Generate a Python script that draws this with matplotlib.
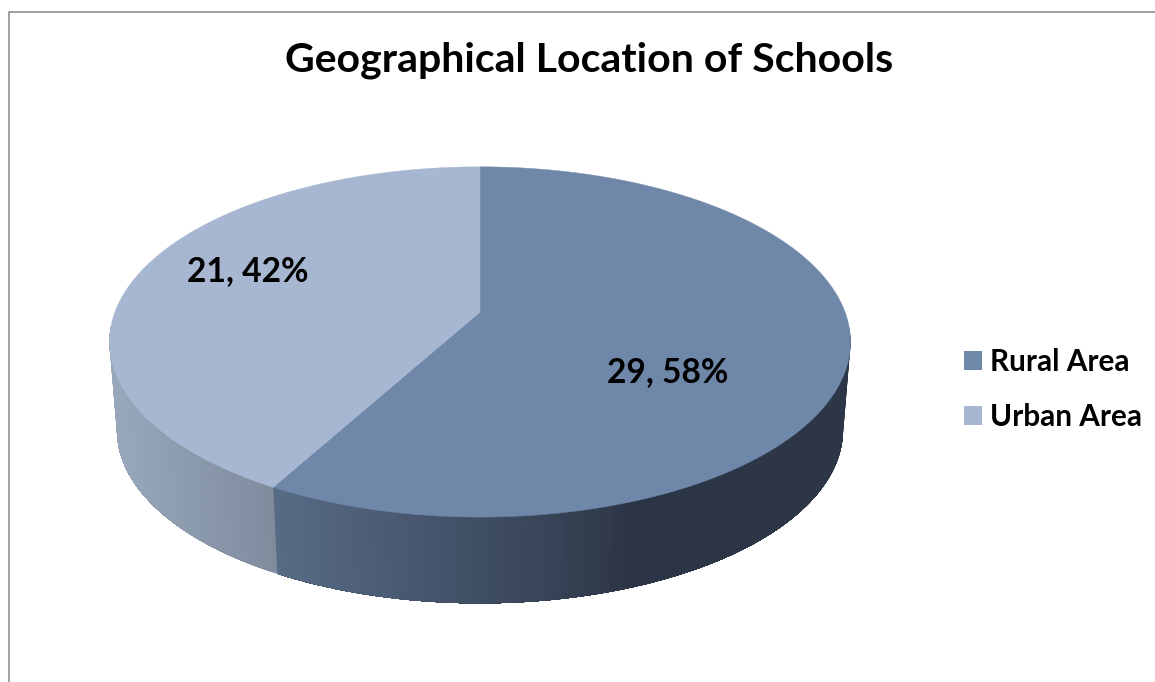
import numpy as np
import matplotlib
matplotlib.use("Agg")
import matplotlib.pyplot as plt
from matplotlib.colors import to_rgb
from matplotlib.patches import Polygon, Patch

title = "Geographical Location of Schools"
categories = ["Rural Area", "Urban Area"]
values = [29, 21]
colors = ["#6f88a9", "#a7b7d1"]

# layout in pixels
cx, vertex_y, ellipse_y = 480, 312, 342
persp = -0.171
rx, ry = 365, 170
wall_scale_x, wall_scale_y, wall_y = 0.98, 0.99, 430
label_pos = [(247.5, 271), (668, 372)][::-1]

# side wall shading, x pixel -> colour
rural_stops = [(272, "#586c86"), (400, "#4a5a73"), (520, "#3c495d"), (640, "#2c3546"), (850, "#2d3646")]
urban_stops = [(115, "#99a7bb"), (190, "#8c9aae"), (277, "#7f8b9d")]

plt.rcParams["font.family"] = ["Lato", "DejaVu Sans"]


def rim(theta):
    """Project an angle clockwise from 12 o'clock onto the tilted top face."""
    u, v = np.sin(theta), -np.cos(theta)
    d = 1 + persp * v
    return cx + rx * u / d, vertex_y + ry * v / d


def wall_rim(x, y):
    return cx + (x - cx) * wall_scale_x, wall_y + (y - ellipse_y) * wall_scale_y


def shade(x, stops):
    xs = [s[0] for s in stops]
    rgb = np.array([to_rgb(s[1]) for s in stops])
    return [np.interp(x, xs, rgb[:, i]) for i in range(3)]


fig = plt.figure(figsize=(11.55, 6.82), dpi=100)
ax = fig.add_axes([0, 0, 1, 1])
ax.set_xlim(0, 1155)
ax.set_ylim(682, 0)
ax.axis("off")

# chart frame
ax.plot([9, 9, 1155], [682, 12, 12], color="#868686", lw=1.1, solid_capstyle="butt")

fractions = np.array(values) / sum(values)
edges = np.concatenate([[0], np.cumsum(fractions)]) * 2 * np.pi

# walls, only the part facing the viewer
# each strip runs to the end of the wall and the next one paints over it, so no seams show
wall_stops = [rural_stops, urban_stops]
for i in range(len(values)):
    start = max(edges[i], np.radians(95))
    stop = min(edges[i + 1], np.radians(265))
    angles = np.linspace(start, stop, 121)
    for a0 in angles[:-1]:
        sweep = np.linspace(a0, stop, 60)
        x, y = rim(sweep)
        xb, yb = wall_rim(x, y)
        c = shade(x[0], wall_stops[i])
        pts = np.column_stack([np.r_[x, xb[::-1]], np.r_[y, yb[::-1]]])
        ax.add_patch(Polygon(pts, facecolor=c, edgecolor="none"))

# top face
for i, cat in enumerate(categories):
    angles = np.linspace(edges[i], edges[i + 1], 400)
    x, y = rim(angles)
    pts = np.column_stack([np.r_[cx, x], np.r_[vertex_y, y]])
    ax.add_patch(Polygon(pts, facecolor=colors[i], edgecolor=colors[i], lw=0.3))
    label = f"{values[i]}, {fractions[i] * 100:.0f}%"
    ax.text(label_pos[i][0], label_pos[i][1], label, ha="center", va="center",
            fontsize=24.2, fontweight="bold", color="black")

ax.text(589, 60, title, ha="center", va="center", fontsize=29.5, fontweight="bold", color="black")

handles = [Patch(facecolor=c, edgecolor="none", label=n) for c, n in zip(colors, categories)]
ax.legend(handles=handles, loc="center left", bbox_to_anchor=(964, 389.5), bbox_transform=ax.transData,
          frameon=False, prop={"size": 21.4, "weight": "bold"}, borderpad=0, borderaxespad=0,
          handlelength=0.6, handleheight=0.6, handletextpad=0.27, labelspacing=0.93)

fig.savefig("out.png", dpi=100)
